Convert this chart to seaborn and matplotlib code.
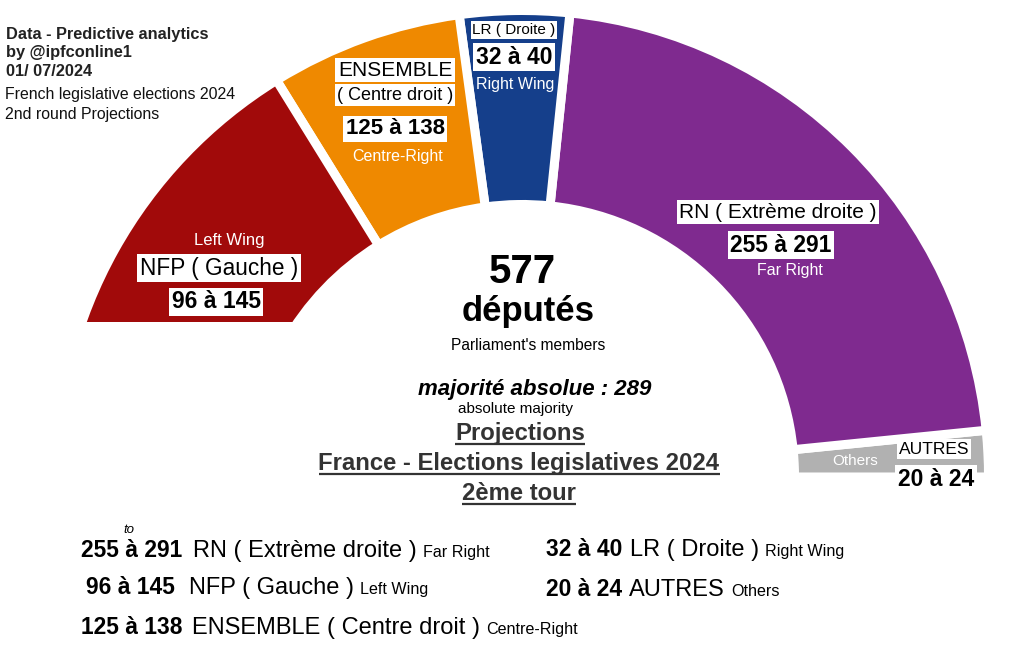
import matplotlib
matplotlib.use("Agg")
import matplotlib.pyplot as plt
from matplotlib.patches import Rectangle
import seaborn as sns

# groups, drawn from the right end (0 deg) to the left end (180 deg)
parties = ["AUTRES", "RN", "LR", "ENSEMBLE", "NFP"]
arc_deg = [5.75, 78.35, 13.65, 24.0, 58.25]   # share of the half circle for each group
colors = ["#b1b1b1", "#7f2a8f", "#153f8b", "#ef8900", "#a10a0a"]
seats = ["20 à 24", "255 à 291", "32 à 40", "125 à 138", "96 à 145"]
names_fr = ["AUTRES", "RN ( Extrème droite )", "LR ( Droite )",
            "ENSEMBLE ( Centre droit )", "NFP ( Gauche )"]
names_en = ["Others", "Far Right", "Right Wing", "Centre-Right", "Left Wing"]

sns.set_theme(style="white")
plt.rcParams['font.family'] = ['Liberation Sans', 'DejaVu Sans']

fig = plt.figure(figsize=(10.27, 6.5), dpi=100)
ax = fig.add_axes([0, 0, 1, 1])

# hemicycle (hidden lower half added so pie only shows the top)
wedges, _ = ax.pie(arc_deg + [180], startangle=0, counterclock=False,
                   center=(522, 477), radius=466.5, colors=colors + ["white"],
                   wedgeprops=dict(width=194, edgecolor="white", linewidth=6.5))
wedges[-1].set_visible(False)
# the left wing is cut flat in the original picture
clip = Rectangle((0, 0), 1027, 322, transform=ax.transData)
wedges[4].set_clip_on(True)
wedges[4].set_clip_path(clip)

ax.set_xlim(0, 1027)
ax.set_ylim(650, 0)
ax.set_aspect("equal")
ax.axis("off")

box = dict(facecolor="white", edgecolor="none", boxstyle="square,pad=0.12")

def t(x, y, s, size, weight="normal", color="black", ha="center", style="normal",
      bg=False, va="center"):
    return ax.text(x, y, s, fontsize=size, fontweight=weight, color=color, ha=ha,
                   va=va, fontstyle=style, bbox=box if bg else None)

# header, top left
t(6, 34, "Data - Predictive analytics", 11.8, "bold", "#222", ha="left")
t(6, 53, "by @ipfconline1", 11.8, "bold", "#222", ha="left")
t(6, 71, "01/ 07/2024", 11.8, "bold", "#222", ha="left")
t(5, 95, "French legislative elections 2024", 11.4, color="#111", ha="left")
t(5, 114, "2nd round Projections", 11.4, color="#111", ha="left")

# labels on the arcs
t(395, 70, "ENSEMBLE", 15, bg=True)
t(395, 95, "( Centre droit )", 13, bg=True)
t(395, 129, seats[3], 16, "bold", bg=True)
t(398, 157, names_en[3], 11.5, color="white")

t(514, 30, names_fr[2], 11, bg=True)
t(514, 57, seats[2], 16.5, "bold", bg=True)
t(515, 85, names_en[2], 11.5, color="white")

t(778, 212, names_fr[1], 15, bg=True)
t(781, 245, seats[1], 16.5, "bold", bg=True)
t(790, 271, names_en[1], 11.5, color="white")

t(229, 240, names_en[4], 12, color="white")
t(219, 268, names_fr[4], 16.3, bg=True)
t(216, 302, seats[4], 16.5, "bold", bg=True)

t(855, 461, names_en[0], 11, color="white")
t(934, 449, names_fr[0], 12.5, bg=True)
t(936, 479, seats[0], 16.5, "bold", bg=True)

# centre block
t(522, 272, "577", 29, "bold")
t(528, 311, "députés", 25, "bold")
t(528, 345, "Parliament's members", 11.2)
t(535, 389, "majorité absolue : 289", 16, "bold", style="italic")
t(515, 409, "absolute majority", 11)

fig.canvas.draw()
rend = fig.canvas.get_renderer()
inv = ax.transData.inverted()

def right_edge(txt):
    bb = txt.get_window_extent(rend)
    return inv.transform((bb.x1, bb.y0))[0]

heads = [(520, 440, "Projections"), (519, 470, "France - Elections legislatives 2024"),
         (519, 500, "2ème tour")]
for x, y, s in heads:
    h = ax.text(x, y, s, fontsize=17.2, fontweight="bold", color="#333",
                ha="center", va="baseline")
    bb = h.get_window_extent(rend)
    x0 = inv.transform((bb.x0, bb.y0))[0]
    x1 = inv.transform((bb.x1, bb.y0))[0]
    ax.plot([x0, x1], [y + 4, y + 4], color="#333", lw=1.6, solid_capstyle="butt")

# bottom legend (baseline aligned rows)
rows = [(81, 557, 1), (86, 594, 4), (81, 634, 3), (546, 556, 2), (546, 596, 0)]
name_x = {1: 193, 4: 189, 3: 192, 2: 630, 0: 629}
for x, y, i in rows:
    t(x, y, seats[i], 16.4, "bold", ha="left", va="baseline")
    fr = t(name_x[i], y, names_fr[i], 17, ha="left", va="baseline")
    t(right_edge(fr) + 6, y, names_en[i], 11.6, ha="left", va="baseline")
t(123, 530, "to", 9.5, style="italic", ha="left")

fig.savefig("out.png", dpi=100)
